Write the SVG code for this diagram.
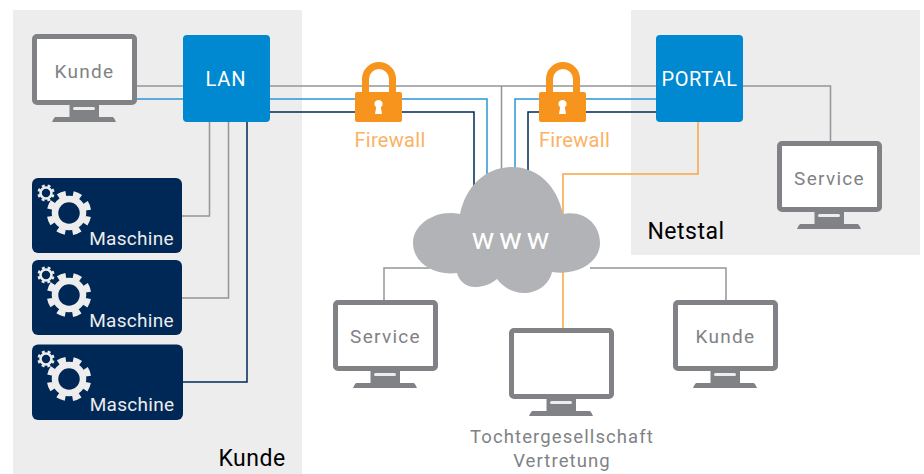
<svg xmlns="http://www.w3.org/2000/svg" width="924" height="474" viewBox="0 0 924 474">
<style>
text{font-family:"Roboto","Liberation Sans",sans-serif;text-anchor:middle}
.line{fill:none;stroke-width:1.5}
.g{stroke:#939598}.b{stroke:#2b96d6}.n{stroke:#002856}.o{stroke:#f9a440}
.mon{fill:#fff;stroke:#808285;stroke-width:5}
.mt{font-size:19px;letter-spacing:1.3px;fill:#808285}
.box{fill:#0089d0}
.bt{font-size:20px;letter-spacing:.9px;fill:#fff}
.mach{fill:#002856}
.mat{font-size:19px;letter-spacing:.3px;fill:#ededed}
.fw{font-size:20px;letter-spacing:.3px;fill:#fbb264}
.zone{font-size:23px;letter-spacing:.5px;fill:#000}
.cap{font-size:18.5px;letter-spacing:1.1px;fill:#808285}
</style>
<defs>
<g id="monitor">
<path fill="#808285" d="M37.500 70H67V83H81Q83 85 84 88H20Q21 85 23 83H37.500Z"/>
<rect x="41" y="73" width="22" height="3" rx="1.500" fill="#ededed"/>
<rect class="mon" x="2.500" y="2.500" width="100" height="66" rx="2.500"/>
</g>
<g id="gear" fill="none" stroke="#ededed">
<circle r="14" stroke-width="6.500"/>
<circle r="19.500" stroke-width="5.500" stroke-dasharray="8 7.316" transform="rotate(10.500)"/>
<g transform="translate(-23 -20)">
<circle r="5.500" stroke-width="2.600"/>
<circle r="7.500" stroke-width="2.200" stroke-dasharray="3 2.890" transform="rotate(11)"/>
</g>
</g>
<g id="lock">
<path d="M10.500 32V17A13.500 13.500 0 0 1 37.500 17V32" fill="none" stroke="#f7941d" stroke-width="7"/>
<rect y="30" width="47" height="30" rx="2" fill="#f7941d"/>
<path fill="#fff" d="M23.500 38a4 4 0 0 1 2.300 7.300L27 52H20L21.200 45.300A4 4 0 0 1 23.500 38Z"/>
</g>
</defs>

<g id="zones">
<rect x="13" y="10" width="289" height="464" fill="#ededed"/>
<rect x="631" y="10" width="289" height="245" fill="#ededed"/>
<text class="zone" x="252" y="466">Kunde</text>
<text class="zone" x="686" y="239">Netstal</text>
</g>

<g id="connectors">
<path class="line g" d="M137 86H183M270 86H656M501.500 86V190M743 86H830.500V141"/>
<path class="line b" d="M137 99H183M270 99H487V190M656 99H515V190"/>
<path class="line n" d="M270 112H474V200M656 112H528V190"/>
<path class="line g" d="M209.500 122V216H182M228.500 122V298H182"/>
<path class="line n" d="M247 122V382H183"/>
<path class="line o" d="M698 122V174H563V328"/>
<path class="line g" d="M430 268H384V300M590 268H726V300"/>
</g>

<g id="node-kunde-lan"><use href="#monitor" x="32" y="34"/><text class="mt" x="84.500" y="78">Kunde</text></g>
<g id="node-lan"><rect class="box" x="183" y="35" width="87" height="87" rx="4"/><text class="bt" x="226" y="86">LAN</text></g>

<g id="node-maschine-1"><rect class="mach" x="32" y="178" width="150" height="75" rx="6"/><use href="#gear" x="69" y="213"/><text class="mat" x="131.500" y="245">Maschine</text></g>
<g id="node-maschine-2"><rect class="mach" x="32" y="260" width="150" height="75" rx="6"/><use href="#gear" x="69" y="295"/><text class="mat" x="131.500" y="327">Maschine</text></g>
<g id="node-maschine-3"><rect class="mach" x="32" y="344.500" width="151" height="75.500" rx="6"/><use href="#gear" x="69" y="379"/><text class="mat" x="132" y="411">Maschine</text></g>

<g id="node-firewall-1"><use href="#lock" x="355" y="62"/><text class="fw" x="390" y="147">Firewall</text></g>
<g id="node-firewall-2"><use href="#lock" x="539" y="62"/><text class="fw" x="574.500" y="147">Firewall</text></g>

<g id="node-www">
<path fill="#b1b3b6" d="M460 214C466 186 486 167 512 167C538 167 557 186 563 214C584 210 600 224 600 243C600 262 578 276 552 272C549 285 537 293 524 293C513 293 504 288 497 279C490 285 482 287 475 287C466 287 459 281 457 273C433 276 413 262 413 243C413 224 436 209 460 214Z"/>
<text x="513" y="249" font-size="30" letter-spacing="5" fill="#fff">www</text>
</g>

<g id="node-portal"><rect class="box" x="656" y="35" width="87" height="87" rx="4"/><text class="bt" style="letter-spacing:.5px" x="699.500" y="86">PORTAL</text></g>
<g id="node-service-netstal"><use href="#monitor" x="777" y="141"/><text class="mt" x="829.500" y="185">Service</text></g>
<g id="node-service"><use href="#monitor" x="333" y="300"/><text class="mt" x="385.500" y="343">Service</text></g>
<g id="node-tochter"><use href="#monitor" x="509" y="328"/><text class="cap" x="562" y="443">Tochtergesellschaft</text><text class="cap" x="562" y="467">Vertretung</text></g>
<g id="node-kunde-www"><use href="#monitor" x="673" y="300"/><text class="mt" x="725.500" y="343">Kunde</text></g>
</svg>
